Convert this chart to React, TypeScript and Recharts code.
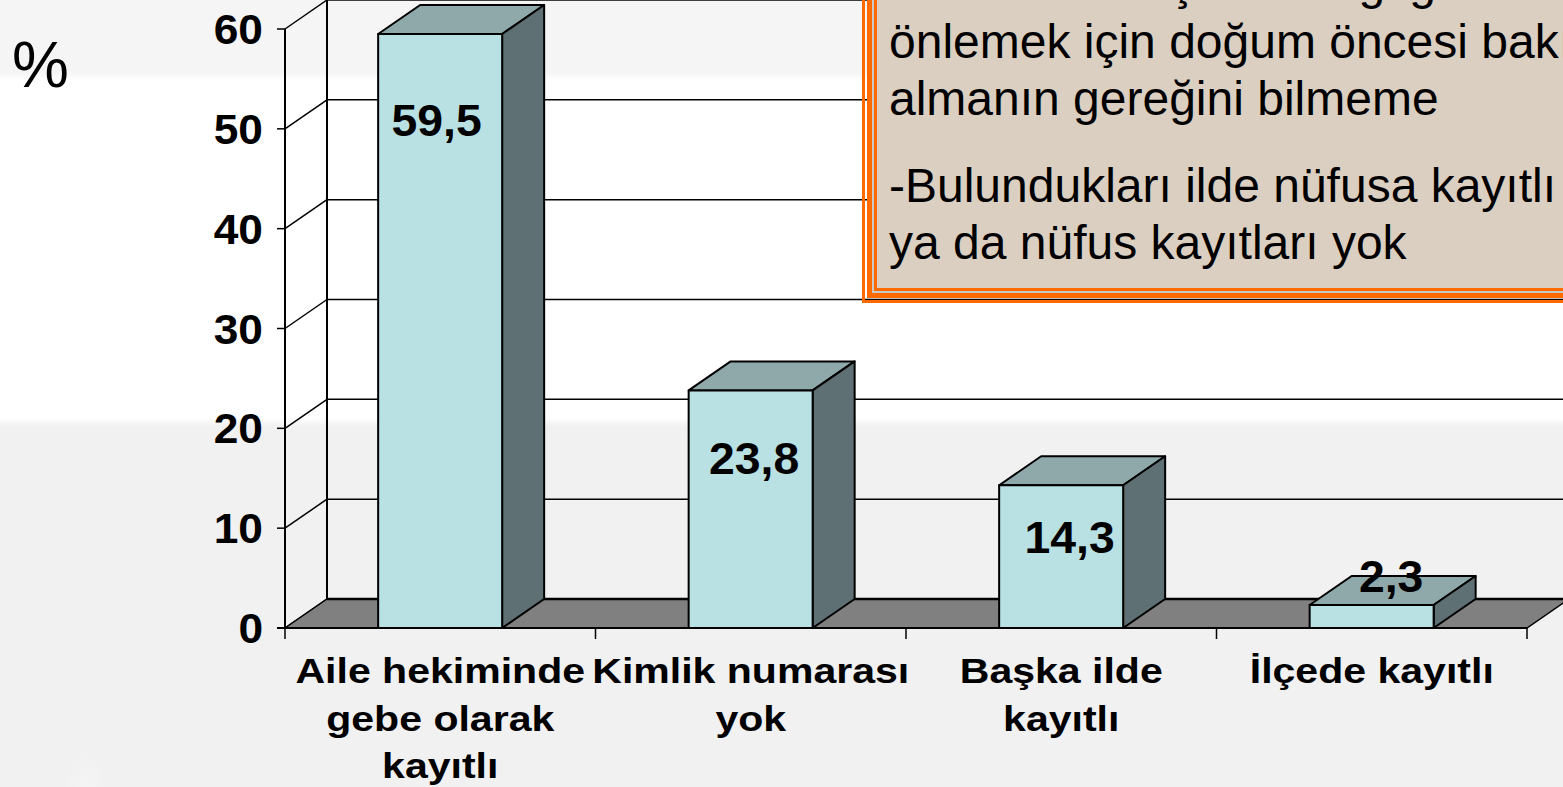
import { BarChart, Bar, XAxis, YAxis, CartesianGrid, LabelList, usePlotArea } from 'recharts'

const categories = ['Aile hekiminde\ngebe olarak\nkayıtlı', 'Kimlik numarası\nyok', 'Başka ilde\nkayıtlı', 'İlçede kayıtlı']
const values = [59.5, 23.8, 14.3, 2.3]
const valueLabels = ['59,5', '23,8', '14,3', '2,3']
const yTicks = [0, 10, 20, 30, 40, 50, 60]
const calloutCut = 'Annelerin ve çocuk sağlığı sorunlarını'
const calloutFirst = ['önlemek için doğum öncesi bakım', 'almanın gereğini bilmeme']
const calloutSecond = ['-Bulundukları ilde nüfusa kayıtlı', 'ya da nüfus kayıtları yok']

const chartData = categories.map((name, i) => ({ name, value: values[i], label: valueLabels[i] }))

const FONT = '"Liberation Sans", Arial, sans-serif'
// depth of the fake 3D box
const DX = 42
const DY = 29
// manual nudges of the value labels, same order as values
const labelShiftX = [-3.5, 3.5, 8.5, 19.5]
const labelShiftY = [102, 84, 68, -13]

function Box3D({ x, y, width, height }: any) {
  if (height == null) return null
  const r = x + width
  const b = y + height
  return (
    <g stroke="#000" strokeWidth={2} strokeLinejoin="round">
      <polygon points={`${x},${y} ${x + DX},${y - DY} ${r + DX},${y - DY} ${r},${y}`} fill="#8fa9ab" />
      <polygon points={`${r},${y} ${r + DX},${y - DY} ${r + DX},${b - DY} ${r},${b}`} fill="#5e7073" />
      <rect x={x} y={y} width={width} height={height} fill="#b9e0e3" />
    </g>
  )
}

function Floor() {
  const plot = usePlotArea()
  if (!plot) return null
  const { x, y, width, height } = plot
  const b = y + height
  const band = width / categories.length
  return (
    <g>
      <polygon points={`${x},${b} ${x + DX},${b - DY} ${x + width + DX},${b - DY} ${x + width},${b}`} fill="#808080" stroke="#000" strokeWidth={1.5} />
      <line x1={x + DX} y1={y - DY} x2={x + DX} y2={b - DY} stroke="#000" strokeWidth={2} />
      <line x1={x + DX} y1={b - DY} x2={x + width + DX} y2={b - DY} stroke="#000" strokeWidth={2.5} />
      <line x1={x - 8} y1={b} x2={x + width} y2={b} stroke="#000" strokeWidth={2} />
      {[0, 1, 2, 3, 4].map((i) => (
        <line key={i} x1={x + band * i} y1={b} x2={x + band * i} y2={b + 11} stroke="#000" strokeWidth={1.5} />
      ))}
    </g>
  )
}

function GridLine(props: any) {
  const { x1, x2, y1 } = props
  return (
    <g stroke="#000" strokeWidth={1.5}>
      <line x1={x1} y1={y1} x2={x1 + DX} y2={y1 - DY} />
      <line x1={x1 + DX} y1={y1 - DY} x2={x2 + DX} y2={y1 - DY} />
    </g>
  )
}

function CategoryTick({ x, payload }: any) {
  const lines = String(payload.value).split('\n')
  return (
    <text transform={`translate(${x} 0) scale(1.14 1)`} textAnchor="middle" fontFamily={FONT} fontWeight="bold" fontSize={36} fill="#000">
      {lines.map((line, i) => (
        <tspan key={i} x={0} y={683.5 + i * 47.5}>{line}</tspan>
      ))}
    </text>
  )
}

function ValueTick({ x, y, payload }: any) {
  return (
    <text transform={`translate(${x + 1} ${y + 15}) scale(1.03 1)`} textAnchor="end" fontFamily={FONT} fontWeight="bold" fontSize={43} fill="#000">
      {payload.value}
    </text>
  )
}

function ValueLabel({ x, y, width, value, index }: any) {
  const cx = x + width / 2 + labelShiftX[index]
  return (
    <text transform={`translate(${cx} ${y + labelShiftY[index]}) scale(1.03 1)`} textAnchor="middle" fontFamily={FONT} fontWeight="bold" fontSize={45} fill="#000">
      {value}
    </text>
  )
}

const bgSpots = [
  'radial-gradient(60px 90px at 60px 510px, rgba(255,244,225,.7), transparent)',
  'radial-gradient(30px 130px at 85px 460px, rgba(255,255,255,.7), transparent)',
  'radial-gradient(25px 110px at 70px 650px, rgba(255,255,255,.6), transparent)',
  'radial-gradient(200px 50px at 180px 730px, rgba(255,255,255,.8), transparent)',
  'radial-gradient(70px 90px at 720px 760px, rgba(255,240,222,.6), transparent)',
  'radial-gradient(300px 70px at 1100px 500px, rgba(255,255,255,.5), transparent)',
  'radial-gradient(300px 60px at 1300px 730px, rgba(255,255,255,.55), transparent)',
  'radial-gradient(200px 60px at 600px 540px, rgba(255,255,255,.4), transparent)',
].join(',')

export default function App() {
  return (
    <div style={{ position: 'absolute', left: 0, top: 0, width: 1563, height: 787, overflow: 'hidden', background: '#fff', fontFamily: FONT }}>
      <div style={{ position: 'absolute', left: 0, top: 0, width: 1563, height: 80, background: 'linear-gradient(#f6f5f5 90%, #fff)' }} />
      <div style={{ position: 'absolute', left: 0, top: 418, width: 1563, height: 369, background: `${bgSpots}, linear-gradient(#fff, #f1f1f2 8px)` }} />

      <BarChart
        width={1563}
        height={787}
        data={chartData}
        margin={{ top: 29, right: 36, bottom: 0, left: 225 }}
        barCategoryGap="30%"
        style={{ position: 'absolute', left: 0, top: 0 }}
      >
        <Floor />
        <CartesianGrid vertical={false} horizontal={GridLine as any} />
        <XAxis dataKey="name" height={159} axisLine={false} tickLine={false} interval={0} tick={CategoryTick as any} />
        <YAxis
          width={60}
          domain={[0, 60]}
          ticks={yTicks}
          tickSize={8}
          tickMargin={15}
          interval={0}
          axisLine={{ stroke: '#000', strokeWidth: 2 }}
          tickLine={{ stroke: '#000', strokeWidth: 1.5 }}
          tick={ValueTick as any}
        />
        <Bar dataKey="value" shape={Box3D as any} isAnimationActive={false}>
          <LabelList dataKey="label" content={ValueLabel as any} />
        </Bar>
      </BarChart>

      <div style={{ position: 'absolute', left: 12, top: 35, fontSize: 64, lineHeight: '60px', color: '#000' }}>%</div>

      {/* callout box, cut off by the top and right of the page */}
      <div style={{ position: 'absolute', left: 862, top: -20, width: 760, height: 323, boxSizing: 'border-box', border: '3px solid #ff6a00' }} />
      <div style={{ position: 'absolute', left: 867, top: -20, width: 760, height: 318, boxSizing: 'border-box', border: '5px solid #ff6a00', background: '#c9c9c9', padding: 2 }}>
        <div style={{ boxSizing: 'border-box', width: '100%', height: '100%', border: '3px solid #ff6a00', background: '#dbcfc1' }} />
      </div>
      <div style={{ position: 'absolute', left: 889, top: -44, fontSize: 48, lineHeight: '57px', whiteSpace: 'nowrap', color: '#000' }}>
        <div style={{ position: 'relative', top: -2 }}>{calloutCut}</div>
        {calloutFirst.map((t) => <div key={t}>{t}</div>)}
        <div style={{ height: 30 }} />
        {calloutSecond.map((t) => <div key={t}>{t}</div>)}
      </div>
    </div>
  )
}
